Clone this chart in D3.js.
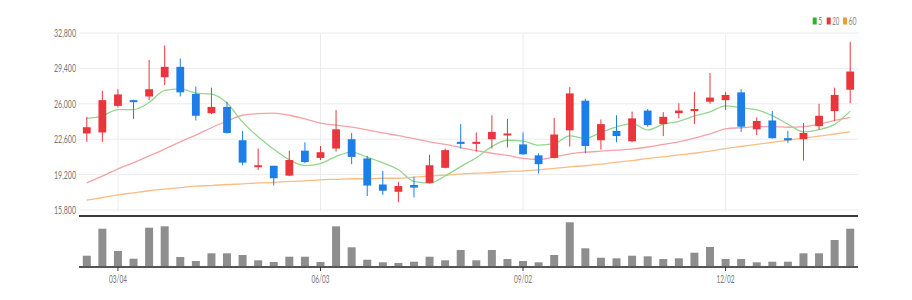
<!DOCTYPE html>
<html><head><meta charset="utf-8">
<script src="https://cdn.jsdelivr.net/npm/d3@7"></script>
<style>html,body{margin:0;padding:0;background:#fff;}svg{display:block;}</style>
</head><body>
<svg id="chart" width="912" height="300"></svg>
<script>
const dates = ["02/19","02/26","03/04","03/11","03/18","03/25","04/01","04/08","04/15","04/22","04/29","05/06","05/13","05/20","05/27","06/03","06/10","06/17","06/24","07/01","07/08","07/15","07/22","07/29","08/05","08/12","08/19","08/26","09/02","09/09","09/16","09/23","09/30","10/07","10/14","10/21","10/28","11/04","11/11","11/18","11/25","12/02","12/09","12/16","12/23","12/30","01/06","01/13","01/20","01/27"];
const opens  = [23150,23250,25800,26350,26700,28550,29550,26950,25100,25700,22500,19950,20050,19100,21500,20800,21700,22600,20750,18250,17550,18200,18400,19850,22350,22150,22600,23000,22100,21050,20800,23450,26300,22500,23400,22400,25350,24050,25100,25300,26200,26350,27100,23550,24400,22700,22600,23850,25300,27350];
const highs  = [24750,27250,27400,26400,30200,31600,30350,27650,27550,26200,23400,21700,20050,21500,22300,21950,25400,23200,21000,19550,18500,19000,21100,21700,24050,23250,24900,24550,23250,21250,24650,27600,26500,24500,24900,25250,25500,25200,26050,27150,28950,27150,27400,24700,25300,23400,24150,26000,27550,31950];
const lows   = [22350,22350,25650,24550,26350,27800,26700,24400,25000,23150,20100,19650,18150,19050,20300,20600,21400,20200,17150,17250,16550,17000,18350,19800,21700,21400,21700,21800,21100,19300,20750,21900,21250,21600,22300,22300,23800,22900,24600,24050,26000,25400,23300,23000,22650,22250,20550,23500,24350,26050];
const closes = [23750,26350,26900,26250,27400,29550,27100,24850,25700,23200,20350,20100,18850,20600,20400,21350,23550,20900,18150,17650,18100,17950,20100,21550,22150,22350,23300,23150,21150,20200,23050,27000,21950,24050,22900,24600,23950,24750,25350,25500,26600,26850,23800,24350,22700,22500,23200,24850,26850,29100];
const volumes = [226000,766000,320000,166000,786000,814000,200000,120000,274000,274000,240000,134000,100000,206000,206000,100000,814000,394000,146000,94000,80000,106000,206000,134000,340000,134000,340000,160000,120000,94000,240000,894000,374000,186000,174000,226000,214000,160000,174000,286000,400000,160000,160000,94000,106000,106000,274000,274000,540000,766000];
const ma5  = [24600,24850,25450,25450,26130,27290,27440,27030,26920,26080,24240,22840,21640,20620,20060,20260,20950,21360,20870,20320,19670,18550,18390,19070,19970,20820,21890,22500,22420,22030,22170,22910,22670,23250,23790,24100,23490,24050,24310,24830,25230,25810,25620,25420,24860,24040,23310,23520,24020,25300];
const ma20 = [18400,19050,19750,20350,21000,21650,22350,23000,23700,24350,24900,25050,25100,24900,24550,24150,23950,23750,23500,23200,22950,22650,22350,22100,21800,21500,21250,21050,20750,20650,20900,21200,21350,21450,21550,21650,21850,22100,22350,22700,23100,23600,23700,23800,23800,23750,23800,24050,24400,24700];
const ma60 = [16750,17000,17250,17450,17650,17800,17950,18100,18150,18250,18300,18400,18450,18550,18600,18700,18750,18800,18800,18850,18850,18950,19050,19150,19250,19350,19400,19500,19550,19650,19800,19950,20050,20200,20400,20550,20750,20900,21100,21250,21450,21700,21900,22100,22300,22500,22700,22900,23100,23300];
const priceTicks = [15800,19200,22600,26000,29400,32800];
const dateTicks = ["03/04","06/03","09/02","12/02"];
const legendLabels = ["5","20","60"];

const svg = d3.select("#chart");
const L = 79, R = 858;
const x = d3.scaleBand().domain(dates).range([L, R]);
const y = d3.scaleLinear().domain([15800, 32800]).range([210, 33]);
const yv = d3.scaleLinear().domain([0, 1000000]).range([267, 217]);
const cx = d => x(d) + x.bandwidth() / 2;
const UP = "#e8363c", DOWN = "#1c7ee6";
const font = "Lato, 'Open Sans', sans-serif";

// horizontal grid
svg.append("g").selectAll("line").data(priceTicks).join("line")
  .attr("x1", L).attr("x2", R).attr("y1", d => y(d)).attr("y2", d => y(d))
  .attr("stroke", "#ececec").attr("stroke-width", 1);
// vertical grid
svg.append("g").selectAll("line").data(dateTicks).join("line")
  .attr("x1", d => cx(d)).attr("x2", d => cx(d)).attr("y1", 33).attr("y2", 210)
  .attr("stroke", "#ececec").attr("stroke-width", 1);

// y axis labels
const yAxis = d3.axisLeft(y).tickValues(priceTicks).tickSize(0).tickPadding(0).tickFormat(d3.format(","));
const ya = svg.append("g").attr("transform", `translate(76,0)`).call(yAxis);
ya.select(".domain").remove();
ya.selectAll("text").attr("font-family", font).attr("font-size", 11).attr("fill", "#777")
  .attr("textLength", 22).attr("lengthAdjust", "spacingAndGlyphs");

// MA lines
const line = arr => d3.line().x((d, i) => cx(dates[i])).y(d => y(d)).curve(d3.curveMonotoneX)(arr);
svg.append("path").attr("d", line(ma60)).attr("fill", "none").attr("stroke", "#f8bd86").attr("stroke-width", 1.3);
svg.append("path").attr("d", line(ma20)).attr("fill", "none").attr("stroke", "#f4a2a6").attr("stroke-width", 1.3);
svg.append("path").attr("d", line(ma5)).attr("fill", "none").attr("stroke", "#94d68e").attr("stroke-width", 1.3);

// candles
const bw = 7.8;
const cg = svg.append("g").selectAll("g").data(dates).join("g");
cg.append("line")
  .attr("x1", d => cx(d)).attr("x2", d => cx(d))
  .attr("y1", (d, i) => y(highs[i])).attr("y2", (d, i) => y(lows[i]))
  .attr("stroke", (d, i) => closes[i] >= opens[i] ? UP : DOWN).attr("stroke-width", 1);
cg.append("rect")
  .attr("x", d => cx(d) - bw / 2).attr("width", bw)
  .attr("y", (d, i) => y(Math.max(opens[i], closes[i])))
  .attr("height", (d, i) => Math.max(2, Math.abs(y(opens[i]) - y(closes[i]))))
  .attr("fill", (d, i) => closes[i] >= opens[i] ? UP : DOWN);

// separator
svg.append("line").attr("x1", L).attr("x2", R).attr("y1", 216).attr("y2", 216).attr("stroke", "#3a3a3a").attr("stroke-width", 2);

// volume bars
svg.append("g").selectAll("rect").data(dates).join("rect")
  .attr("x", d => cx(d) - 4).attr("width", 8)
  .attr("y", (d, i) => yv(volumes[i])).attr("height", (d, i) => yv(0) - yv(volumes[i]))
  .attr("fill", "#8e8e8e");
svg.append("line").attr("x1", L).attr("x2", R).attr("y1", 267).attr("y2", 267).attr("stroke", "#555").attr("stroke-width", 2);

// x axis
const xAxis = d3.axisBottom(x).tickValues(dateTicks).tickSize(4).tickPadding(4);
const xa = svg.append("g").attr("transform", "translate(0,267)").call(xAxis);
xa.select(".domain").remove();
xa.selectAll("line").attr("stroke", "#333");
xa.selectAll("text").attr("font-family", font).attr("font-size", 11).attr("fill", "#777")
  .attr("textLength", 18).attr("lengthAdjust", "spacingAndGlyphs");

// legend
const legColors = ["#2cb52c", "#e8363c", "#f4992f"];
const legX = [812.7, 826.7, 843];
const legW = [4, 7, 8];
const lg = svg.append("g").selectAll("g").data(legendLabels).join("g");
lg.append("rect").attr("x", (d, i) => legX[i]).attr("y", 17.5).attr("width", 4).attr("height", 7).attr("fill", (d, i) => legColors[i]);
lg.append("text").attr("x", (d, i) => legX[i] + 5.5).attr("y", 25).text(d => d)
  .attr("font-family", font).attr("font-size", 11).attr("fill", "#888")
  .attr("textLength", (d, i) => legW[i]).attr("lengthAdjust", "spacingAndGlyphs");
</script>
</body></html>
